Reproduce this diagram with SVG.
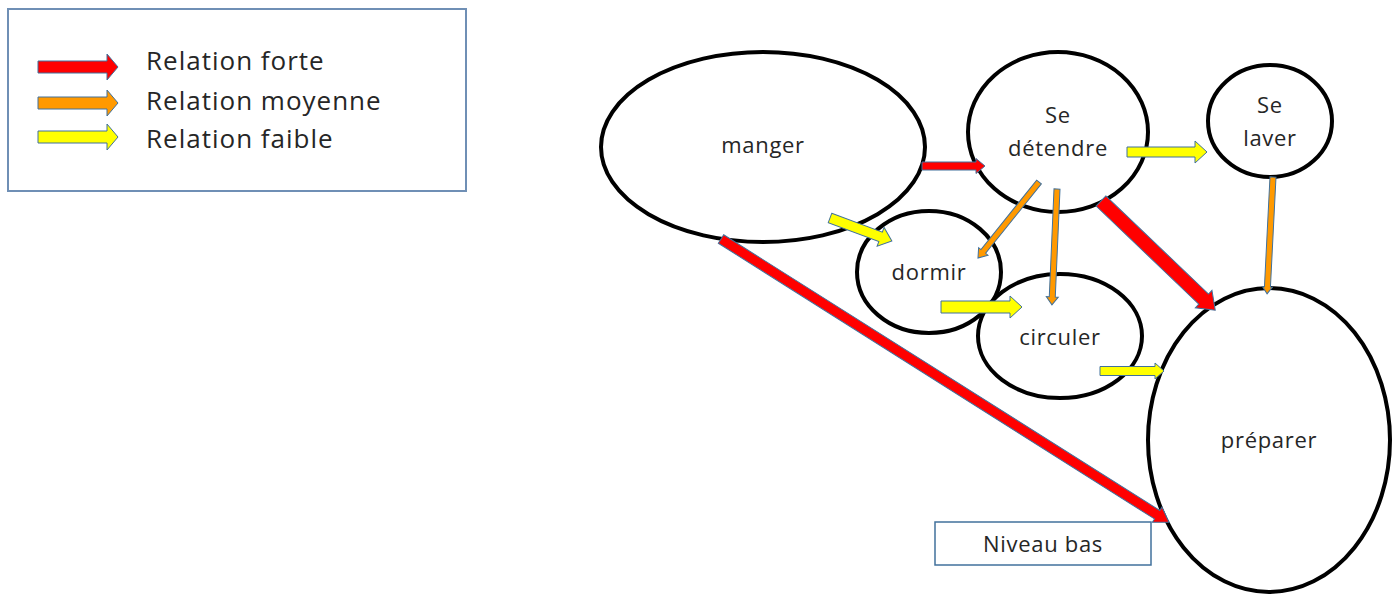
<svg xmlns="http://www.w3.org/2000/svg" width="1397" height="596" viewBox="0 0 1397 596">
<style>
.node{fill:#fff;stroke:#000;stroke-width:4}
.lbl{font-family:"Open Sans","Liberation Sans",sans-serif;font-size:22px;letter-spacing:0.7px;fill:#262626;text-anchor:middle}
.leg{font-family:"Open Sans","Liberation Sans",sans-serif;font-size:26px;letter-spacing:1px;fill:#262626}
.arr{stroke:#41719C;stroke-width:1;stroke-linejoin:miter}
.red{fill:#FF0000}.org{fill:#FF9900}.yel{fill:#FFFF00}
</style>
<g id="legend">
<rect x="8" y="9" width="458" height="182" fill="#fff" stroke="#6F8FB5" stroke-width="2"/>
<polygon class="arr red" points="38,61 107,61 107,54 118,67 107,80 107,73 38,73"/>
<polygon class="arr org" points="38,97 107,97 107,90 118,103 107,116 107,109 38,109"/>
<polygon class="arr yel" points="38,131 107,131 107,124 118,137 107,150 107,143 38,143"/>
<text class="leg" x="146" y="70">Relation forte</text>
<text class="leg" x="146" y="110">Relation moyenne</text>
<text class="leg" x="146" y="148">Relation faible</text>
</g>
<g id="manger"><ellipse class="node" cx="763" cy="147" rx="162" ry="95"/><text class="lbl" x="763" y="153">manger</text></g>
<g id="se-detendre"><ellipse class="node" cx="1058" cy="132" rx="90" ry="80"/><text class="lbl" x="1058" y="123">Se</text><text class="lbl" x="1058" y="156">détendre</text></g>
<g id="dormir"><ellipse class="node" cx="929" cy="272" rx="72" ry="61"/><text class="lbl" x="929" y="280">dormir</text></g>
<g id="circuler"><ellipse class="node" cx="1060" cy="336" rx="82" ry="62"/><text class="lbl" x="1060" y="345">circuler</text></g>
<g id="se-laver"><ellipse class="node" cx="1270" cy="121" rx="62" ry="56"/><text class="lbl" x="1270" y="113">Se</text><text class="lbl" x="1270" y="146">laver</text></g>
<g id="preparer"><ellipse class="node" cx="1269" cy="440" rx="121" ry="152"/><text class="lbl" x="1269" y="448">préparer</text></g>
<g id="niveau-bas"><rect x="935" y="522" width="216" height="43" fill="#fff" stroke="#41719C" stroke-width="1.5"/><text class="lbl" x="1043" y="552">Niveau bas</text></g>
<g id="connectors">
<g transform="translate(922,166)"><polygon class="arr red" points="0,-4 54,-4 54,-7.5 63,0 54,7.5 54,4 0,4"/></g>
<g transform="translate(830,218) rotate(20.4)"><polygon class="arr yel" points="0,-5 54,-5 54,-10 66,0 54,10 54,5 0,5"/></g>
<g transform="translate(721,239) rotate(32.3)"><polygon class="arr red" points="0,-5 516,-5 516,-9 530,0 516,9 516,5 0,5"/></g>
<g transform="translate(1039,182) rotate(128.75)"><polygon class="arr org" points="0,-3 89,-3 89,-6 97.5,0 89,6 89,3 0,3"/></g>
<g transform="translate(1057,189) rotate(92.5)"><polygon class="arr org" points="0,-3 108,-3 108,-6 116,0 108,6 108,3 0,3"/></g>
<g transform="translate(1101,201) rotate(43.7)"><polygon class="arr red" points="0,-7 142,-7 142,-12 158,0 142,12 142,7 0,7"/></g>
<g transform="translate(1127,152)"><polygon class="arr yel" points="0,-5 68,-5 68,-11 80,0 68,11 68,5 0,5"/></g>
<g transform="translate(1273,177) rotate(92.9)"><polygon class="arr org" points="0,-3 110,-3 110,-5 117,0 110,5 110,3 0,3"/></g>
<g transform="translate(941,307)"><polygon class="arr yel" points="0,-6 69,-6 69,-11 81,0 69,11 69,6 0,6"/></g>
<g transform="translate(1100,371)"><polygon class="arr yel" points="0,-4.5 55,-4.5 55,-8 64,0 55,8 55,4.5 0,4.5"/></g>
</g>
</svg>
